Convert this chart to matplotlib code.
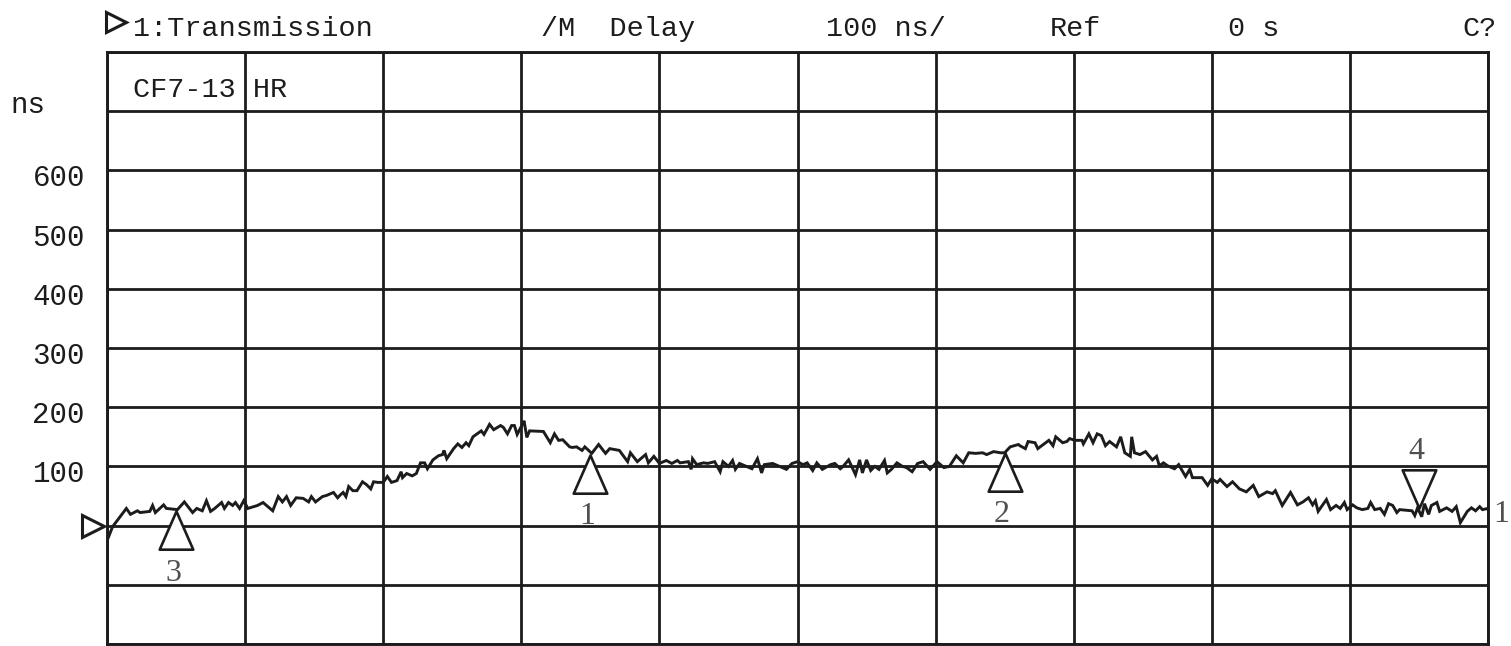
import numpy as np
import matplotlib
matplotlib.use("Agg")
import matplotlib.pyplot as plt
from matplotlib.path import Path
from matplotlib.lines import Line2D
from matplotlib.transforms import blended_transform_factory

### Data ###
# trace 1 (group delay, ns) vs. sweep position in graticule divisions (0..10)
pos = [0.01, 0.04, 0.14, 0.17, 0.22, 0.24, 0.31, 0.33, 0.35, 0.41, 0.43, 0.51, 0.56,
       0.62, 0.65, 0.69, 0.72, 0.75, 0.78, 0.83, 0.85, 0.88, 0.91, 0.93, 0.96, 0.99,
       1.02, 1.09, 1.13, 1.20, 1.24, 1.27, 1.30, 1.33, 1.37, 1.42, 1.46, 1.48, 1.51,
       1.56, 1.59, 1.64, 1.67, 1.69, 1.71, 1.73, 1.75, 1.78, 1.81, 1.85, 1.88, 1.91,
       1.93, 1.96, 2.00, 2.03, 2.06, 2.10, 2.13, 2.14, 2.17, 2.21, 2.24, 2.27, 2.30,
       2.32, 2.36, 2.40, 2.43, 2.44, 2.46, 2.51, 2.54, 2.57, 2.60, 2.62, 2.65, 2.68,
       2.71, 2.73, 2.77, 2.80, 2.85, 2.87, 2.90, 2.93, 2.95, 2.97, 3.01, 3.02, 3.04,
       3.06, 3.16, 3.21, 3.24, 3.27, 3.30, 3.35, 3.37, 3.40, 3.44, 3.46, 3.51, 3.56,
       3.61, 3.64, 3.71, 3.77, 3.79, 3.84, 3.90, 3.92, 3.96, 4.00, 4.05, 4.09, 4.13,
       4.15, 4.21, 4.23, 4.24, 4.27, 4.32, 4.35, 4.40, 4.44, 4.46, 4.50, 4.53, 4.55,
       4.58, 4.63, 4.67, 4.71, 4.74, 4.76, 4.82, 4.87, 4.92, 4.96, 5.00, 5.04, 5.07,
       5.11, 5.14, 5.18, 5.24, 5.27, 5.31, 5.33, 5.37, 5.40, 5.42, 5.45, 5.47, 5.50,
       5.53, 5.56, 5.59, 5.63, 5.65, 5.68, 5.72, 5.76, 5.79, 5.83, 5.87, 5.91, 5.96,
       6.01, 6.06, 6.10, 6.15, 6.20, 6.24, 6.29, 6.34, 6.37, 6.42, 6.47, 6.50, 6.54,
       6.60, 6.61, 6.65, 6.67, 6.72, 6.74, 6.78, 6.82, 6.85, 6.87, 6.92, 6.95, 6.97,
       7.01, 7.06, 7.07, 7.11, 7.14, 7.17, 7.20, 7.23, 7.26, 7.31, 7.34, 7.37, 7.41,
       7.42, 7.44, 7.48, 7.52, 7.57, 7.60, 7.62, 7.65, 7.68, 7.73, 7.76, 7.81, 7.84,
       7.86, 7.93, 7.97, 8.00, 8.04, 8.06, 8.11, 8.15, 8.20, 8.25, 8.30, 8.34, 8.40,
       8.44, 8.46, 8.51, 8.57, 8.62, 8.66, 8.70, 8.73, 8.75, 8.77, 8.83, 8.86, 8.90,
       8.93, 8.96, 8.98, 9.02, 9.05, 9.09, 9.13, 9.15, 9.18, 9.22, 9.25, 9.28, 9.31,
       9.34, 9.36, 9.45, 9.47, 9.49, 9.52, 9.54, 9.57, 9.59, 9.63, 9.65, 9.70, 9.74,
       9.77, 9.80, 9.85, 9.88, 9.91, 9.94, 9.96, 10.0]
delay_ns = [-20, -2, 29, 19, 25, 22, 24, 34, 22, 35, 29, 27, 40,
            22, 29, 25, 42, 24, 29, 39, 29, 39, 34, 39, 29, 42,
            29, 34, 39, 25, 49, 40, 49, 34, 47, 46, 40, 49, 40,
            49, 51, 56, 47, 52, 56, 49, 66, 59, 59, 74, 69, 62,
            74, 73, 73, 83, 73, 76, 91, 81, 88, 84, 88, 106, 106,
            96, 111, 118, 120, 127, 113, 130, 138, 132, 140, 135, 150, 155,
            160, 154, 171, 162, 169, 166, 155, 169, 169, 154, 172, 177, 149,
            160, 159, 140, 155, 144, 145, 133, 132, 133, 127, 133, 122, 137,
            122, 130, 127, 108, 123, 108, 120, 106, 117, 105, 110, 105, 110,
            106, 108, 95, 113, 103, 106, 105, 108, 91, 108, 100, 110, 95,
            105, 100, 96, 113, 89, 103, 105, 100, 95, 105, 108, 103, 106,
            93, 106, 95, 103, 105, 96, 100, 111, 96, 86, 111, 89, 111,
            93, 100, 95, 110, 89, 95, 106, 100, 98, 91, 105, 108, 95,
            108, 98, 100, 118, 106, 123, 122, 123, 120, 125, 123, 123, 133,
            137, 135, 130, 142, 140, 130, 137, 144, 135, 150, 140, 142, 147,
            144, 144, 138, 155, 140, 155, 152, 135, 142, 133, 150, 123, 117,
            150, 123, 120, 125, 111, 117, 101, 106, 101, 96, 103, 83, 95,
            81, 81, 68, 79, 73, 78, 66, 74, 62, 57, 68, 49, 57,
            54, 59, 34, 56, 35, 40, 47, 35, 42, 24, 44, 27, 34,
            29, 39, 27, 35, 30, 27, 29, 39, 27, 29, 19, 37, 34,
            22, 27, 25, 17, 30, 15, 37, 19, 34, 39, 24, 30, 24,
            32, 5, 24, 30, 25, 32, 27, 29]

# markers
mk_id = ['1', '2', '3', '4']
mk_pos = [3.5, 6.5, 0.5, 9.5]
mk_ns = [120, 123, 24, 30]
mk_down = [False, False, False, True]

y_labels = [100, 200, 300, 400, 500, 600]
header = ["1:Transmission", "/M  Delay", "100 ns/", "Ref", "0 s", "C?"]
title = "CF7-13 HR"

### Plotting ###
W, H = 1511, 646
ink = '#1c1c1c'
plt.rcParams['font.family'] = ['Liberation Mono', 'DejaVu Sans']

fig = plt.figure(figsize=(W / 100, H / 100), dpi=100)
ax = fig.add_axes([107 / W, 1 - 644 / H, 1381 / W, 592 / H])

def fx(px):
	return px / W

def fy(py):
	return 1 - py / H

ax.set_xlim(0, 10)
ax.set_ylim(-200, 800)
ax.set_xticks(np.arange(0, 11))
ax.set_yticks(np.arange(-200, 801, 100))
ax.tick_params(length=0, labelleft=False, labelbottom=False)
ax.grid(True, color=ink, lw=2.0)
for s in ax.spines.values():
	s.set_color(ink)
	s.set_linewidth(2.1)

ax.plot(pos, delay_ns, color=ink, lw=2.1, zorder=3, solid_joinstyle='miter')

# marker glyphs: apex sits on the trace
up = Path([(0, 0), (-0.44, -1), (0.44, -1), (0, 0)],
          [Path.MOVETO, Path.LINETO, Path.LINETO, Path.CLOSEPOLY])
down = Path([(0, 0), (-0.44, 1), (0.44, 1), (0, 0)],
            [Path.MOVETO, Path.LINETO, Path.LINETO, Path.CLOSEPOLY])
for i in range(len(mk_id)):
	ax.plot(mk_pos[i], mk_ns[i], marker=down if mk_down[i] else up, ms=55,
	        mfc='white', mec=ink, mew=1.9, zorder=4, clip_on=False)
	dy = 56 if mk_down[i] else -62
	ax.annotate(mk_id[i], (mk_pos[i], mk_ns[i]), xytext=(-3, dy),
	            textcoords='offset pixels', ha='center', va='center',
	            fontsize=23, family='Liberation Serif', color='#505050')

# y scale labels
for v in y_labels:
	ax.annotate(str(v), (0, v), xycoords=('axes fraction', 'data'),
	            xytext=(-22, -8), textcoords='offset pixels',
	            ha='right', va='center', fontsize=21, color=ink)
fig.text(fx(10), fy(105), "ns", ha='left', va='center', fontsize=21, color=ink)

# reference position arrow (left) and trace number (right)
trans = blended_transform_factory(ax.transAxes, ax.transData)
ax.plot([-14 / 1381], [0], marker='>', ms=16, mfc='white', mec=ink, mew=2.2,
        transform=trans, clip_on=False)
ax.annotate("1", (1, 0), xycoords=('axes fraction', 'data'), xytext=(5, 11),
            textcoords='offset pixels', ha='left', va='center',
            fontsize=23, family='Liberation Serif', color='#505050')

# header line
fig.add_artist(Line2D([fx(116)], [fy(22)], marker='>', ms=15, mfc='white',
                      mec=ink, mew=2.2))
head_x = [133, 541, 826, 1050, 1228]
for s, x in zip(header[:-1], head_x):
	fig.text(fx(x), fy(29), s, ha='left', va='center', fontsize=20.5, color=ink)
fig.text(fx(1497), fy(29), header[-1], ha='right', va='center', fontsize=20.5, color=ink)

fig.text(fx(133), fy(90), title, ha='left', va='center', fontsize=20.5, color=ink)

fig.savefig('out.png', dpi=100)
